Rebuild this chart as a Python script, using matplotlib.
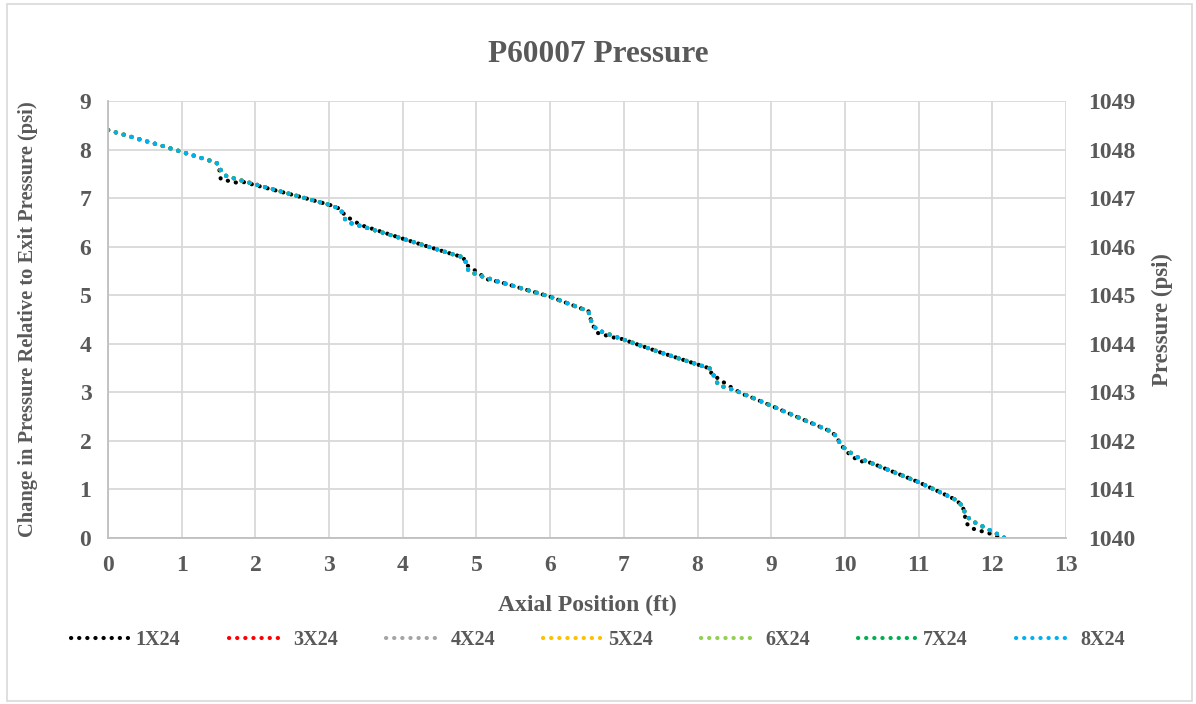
import matplotlib.pyplot as plt
from matplotlib.patches import Rectangle

# values (axial position ft, delta P psi)
x_base = [0, 0.75, 1.45, 1.5, 1.54, 1.61, 1.84, 2.6, 3.01, 3.13, 3.19, 3.22, 3.33, 3.42,
          4.05, 4.6, 4.82, 4.87, 4.89, 5.05, 5.32, 6.0, 6.52, 6.56, 6.63, 6.95, 7.5,
          8.17, 8.24, 8.28, 8.49, 8.76, 9.8, 9.89, 9.93, 10.02, 10.2, 11.0, 11.42,
          11.51, 11.6, 11.63, 11.7, 11.88, 12.17]
y_base = [8.4, 8.07, 7.74, 7.7, 7.54, 7.45, 7.35, 7.03, 6.86, 6.79, 6.69, 6.55, 6.46, 6.43,
          6.14, 5.88, 5.78, 5.64, 5.5, 5.4, 5.27, 4.97, 4.67, 4.45, 4.29, 4.11, 3.82,
          3.49, 3.29, 3.15, 3.05, 2.88, 2.2, 2.09, 1.95, 1.81, 1.64, 1.15, 0.85,
          0.78, 0.65, 0.51, 0.37, 0.23, 0.0]

x_1x24 = [0, 0.75, 1.45, 1.5, 1.53, 1.74, 1.84, 2.6, 3.01, 3.13, 3.235, 3.34, 3.42,
          4.05, 4.6, 4.82, 4.87, 4.97, 5.14, 5.32, 6.0, 6.52, 6.56, 6.63, 6.74, 6.86,
          6.95, 7.5, 8.17, 8.19, 8.37, 8.46, 8.6, 8.76, 9.8, 9.89, 9.93, 10.02, 10.18,
          10.35, 11.0, 11.42, 11.51, 11.6, 11.65, 11.72, 11.83, 11.95, 12.06, 12.17]
y_1x24 = [8.4, 8.07, 7.74, 7.7, 7.39, 7.32, 7.33, 7.03, 6.86, 6.79, 6.62, 6.53, 6.45,
          6.14, 5.88, 5.78, 5.62, 5.52, 5.33, 5.27, 4.97, 4.67, 4.45, 4.23, 4.18, 4.13,
          4.11, 3.82, 3.49, 3.38, 3.19, 3.1, 2.97, 2.88, 2.2, 2.09, 1.95, 1.78, 1.59,
          1.55, 1.15, 0.85, 0.78, 0.65, 0.3, 0.2, 0.15, 0.1, 0.04, 0.0]

labels = ['1X24', '3X24', '4X24', '5X24', '6X24', '7X24', '8X24']
colors = ['#000000', '#FF0000', '#A5A5A5', '#FFC000', '#92D050', '#00B050', '#00B0F0']
series_x = [x_1x24] + [x_base] * 6
series_y = [y_1x24] + [y_base] * 6

exit_pressure = 1040
txt = '#595959'

plt.rcParams['font.family'] = ['Liberation Serif', 'DejaVu Serif']
plt.rcParams['font.weight'] = 'bold'

fig = plt.figure(figsize=(11.96, 7.04), dpi=100)
ax = fig.add_axes([108 / 1196, 1 - 538 / 704, (1066 - 108) / 1196, (538 - 101) / 704])

for xs, ys, lab, c in zip(series_x, series_y, labels, colors):
    ax.plot(xs, ys, color=c, lw=3.0, linestyle=(0, (0.05, 1.9)),
            dash_capstyle='round', solid_capstyle='round', label=lab)

ax.set_xlim(0, 13)
ax.set_ylim(0, 9)
ax.set_xticks(range(0, 14))
ax.set_yticks(range(0, 10))
ax.grid(True, color='#D9D9D9', lw=1.3)
ax.set_axisbelow(True)
for s in ['top', 'right']:
    ax.spines[s].set_visible(False)
for s in ['left', 'bottom']:
    ax.spines[s].set_color('#BFBFBF')
    ax.spines[s].set_linewidth(1.3)
ax.tick_params(length=0, labelsize=17, labelcolor=txt, pad=12)
for lbl in ax.get_xticklabels() + ax.get_yticklabels():
    lbl.set_fontweight('bold')

ax.set_xlabel('Axial Position (ft)', fontsize=17, color=txt, fontweight='bold', labelpad=14)
ax.set_ylabel('Change in Pressure Relative to Exit Pressure (psi)', fontsize=14.8,
              color=txt, fontweight='bold', labelpad=30)

ax2 = ax.twinx()
ax2.set_ylim(exit_pressure, exit_pressure + 9)
ax2.set_yticks(range(exit_pressure, exit_pressure + 10))
for s in ax2.spines.values():
    s.set_visible(False)
ax2.tick_params(length=0, labelsize=17, labelcolor=txt, pad=16)
for lbl in ax2.get_yticklabels():
    lbl.set_fontweight('bold')
ax2.set_ylabel('Pressure (psi)', fontsize=16.5, color=txt, fontweight='bold', labelpad=12)

fig.text(0.5, 1 - 55 / 704, 'P60007 Pressure', ha='center', va='center',
         fontsize=22.5, color=txt, fontweight='bold')

leg = fig.legend(*ax.get_legend_handles_labels(), loc='center', ncol=7,
                 bbox_to_anchor=(0.5, 1 - 640 / 704), frameon=False,
                 fontsize=14.5, handlelength=2.8, columnspacing=2.4, handletextpad=0.4)
for t in leg.get_texts():
    t.set_color(txt)

fig.patches.append(Rectangle((7 / 1196, 3 / 704), 1185 / 1196, 697 / 704,
                             transform=fig.transFigure, fill=False,
                             ec='#D9D9D9', lw=1.2))

fig.savefig('out.png', dpi=100)
